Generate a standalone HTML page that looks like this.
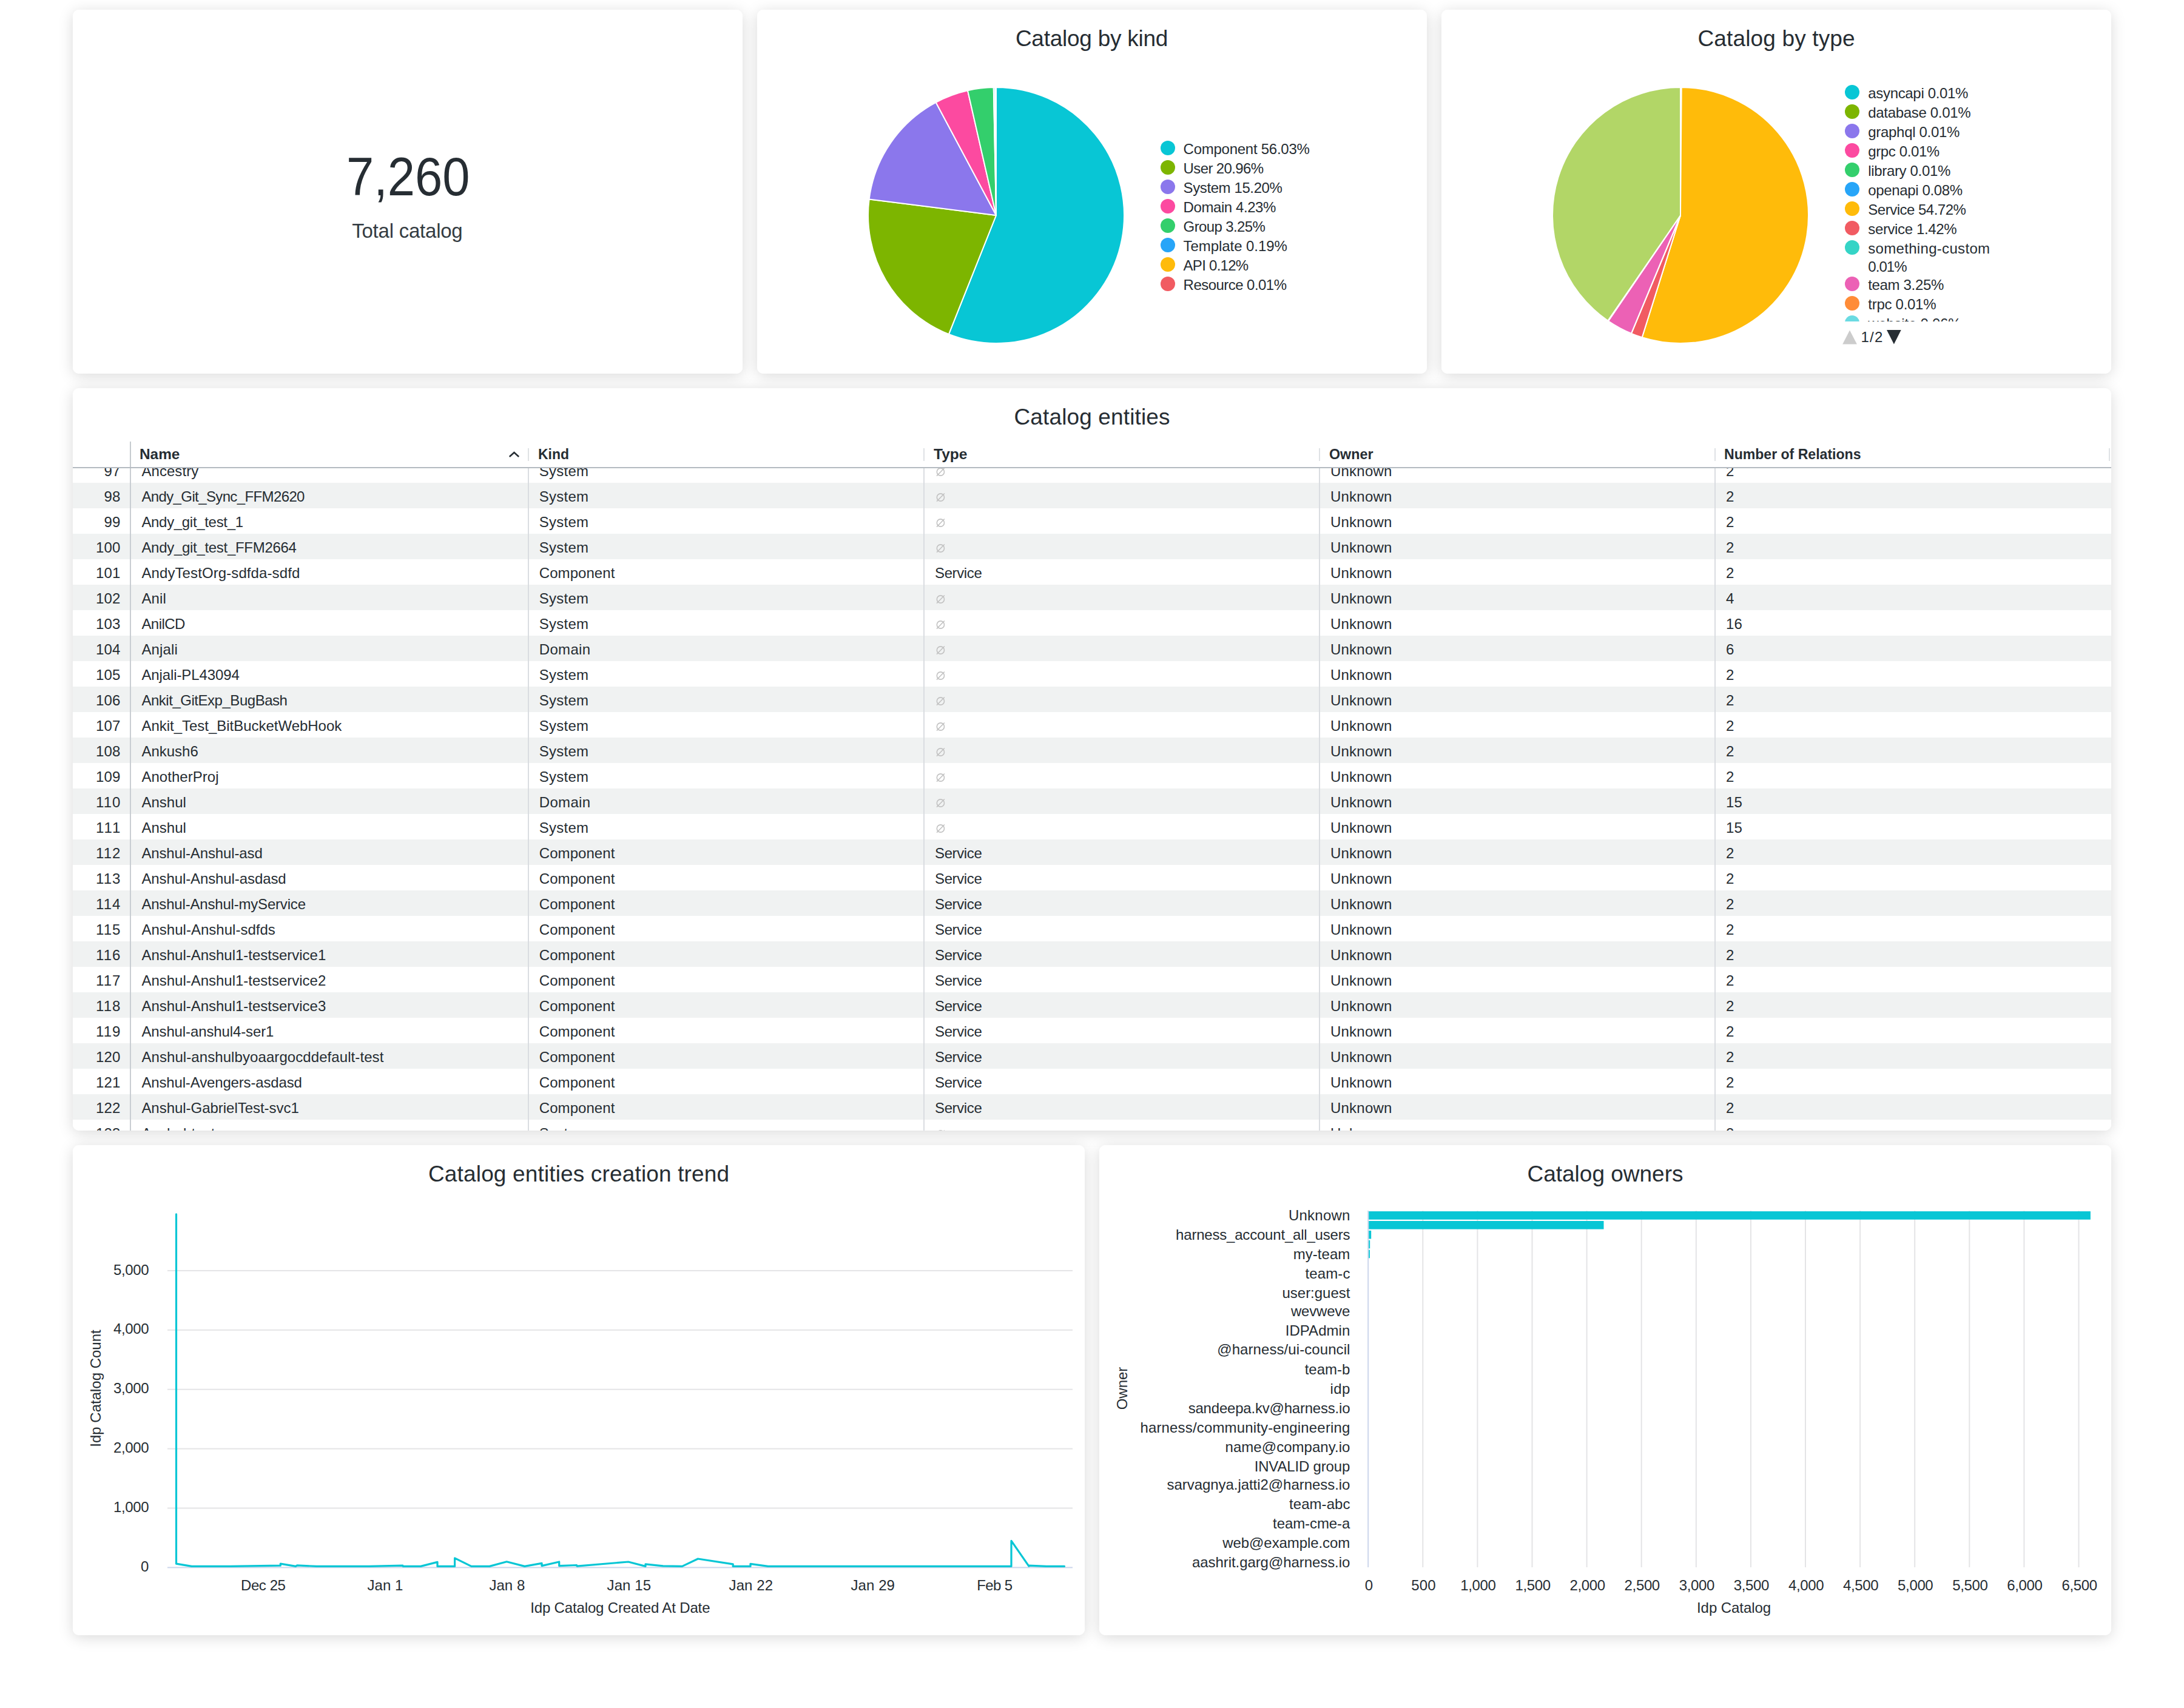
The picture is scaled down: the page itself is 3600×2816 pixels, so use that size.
<!DOCTYPE html>
<html><head><meta charset="utf-8"><title>Catalog dashboard</title><style>
html,body{margin:0;padding:0;background:#fff}
body{width:3600px;height:2816px;position:relative;overflow:hidden;font-family:"Liberation Sans",sans-serif;color:#262d33}
.abs{position:absolute}
.sh{position:absolute;border-radius:10px;box-shadow:0 4px 24px rgba(0,0,0,0.15)}
.card{position:absolute;border-radius:10px;background:#fff}
.t{position:absolute;white-space:pre;line-height:1}
.rot{position:absolute;white-space:pre;line-height:1;font-size:24px;transform:translate(-50%,-50%) rotate(-90deg)}
svg{display:block}
</style></head><body>
<div class="sh" style="left:120px;top:16px;width:1104px;height:600px"></div>
<div class="sh" style="left:1248px;top:16px;width:1104px;height:600px"></div>
<div class="sh" style="left:2376px;top:16px;width:1104px;height:600px"></div>
<div class="sh" style="left:120px;top:640px;width:3360px;height:1224px"></div>
<div class="sh" style="left:120px;top:1888px;width:1668px;height:808px"></div>
<div class="sh" style="left:1812px;top:1888px;width:1668px;height:808px"></div>
<div class="card" style="left:120px;top:16px;width:1104px;height:600px"></div>
<div class="card" style="left:1248px;top:16px;width:1104px;height:600px"></div>
<div class="card" style="left:2376px;top:16px;width:1104px;height:600px"></div>
<div class="card" style="left:120px;top:640px;width:3360px;height:1224px"></div>
<div class="card" style="left:120px;top:1888px;width:1668px;height:808px"></div>
<div class="card" style="left:1812px;top:1888px;width:1668px;height:808px"></div>
<div class="t" style="left:571.0px;top:246.5px;font-size:89px;transform:scaleX(0.9137);transform-origin:0 0;">7,260</div>
<div class="t" style="left:580.2px;top:364.1px;font-size:33px;color:#343c42;letter-spacing:-0.23px;">Total catalog</div>
<div class="t" style="left:1673.9px;top:45.2px;font-size:37px;letter-spacing:-0.25px;">Catalog by kind</div>
<div class="t" style="left:2798.5px;top:45.2px;font-size:37px;letter-spacing:0.14px;">Catalog by type</div>
<div class="t" style="left:1671.5px;top:669.2px;font-size:37px;letter-spacing:0.13px;">Catalog entities</div>
<div class="t" style="left:706.0px;top:1916.7px;font-size:37px;letter-spacing:0.15px;">Catalog entities creation trend</div>
<div class="t" style="left:2517.5px;top:1916.7px;font-size:37px;letter-spacing:-0.01px;">Catalog owners</div>
<svg class="abs" style="left:1427.3px;top:139.60000000000002px" width="430" height="430" viewBox="1427.3 139.60000000000002 430 430"><path d="M1642.30 354.60L1642.30 143.60A211 211 0 1 1 1564.19 550.61Z" fill="#08C6D5" stroke="#fff" stroke-width="2" stroke-linejoin="round"/><path d="M1642.30 354.60L1564.19 550.61A211 211 0 0 1 1432.96 328.18Z" fill="#7DB500" stroke="#fff" stroke-width="2" stroke-linejoin="round"/><path d="M1642.30 354.60L1432.96 328.18A211 211 0 0 1 1542.97 168.44Z" fill="#8B77EC" stroke="#fff" stroke-width="2" stroke-linejoin="round"/><path d="M1642.30 354.60L1542.97 168.44A211 211 0 0 1 1595.36 148.89Z" fill="#FC4AA0" stroke="#fff" stroke-width="2" stroke-linejoin="round"/><path d="M1642.30 354.60L1595.36 148.89A211 211 0 0 1 1638.06 143.64Z" fill="#33CF6C" stroke="#fff" stroke-width="2" stroke-linejoin="round"/><path d="M1642.30 354.60L1638.06 143.64A211 211 0 0 1 1640.58 143.61Z" fill="#27A5F8" stroke="#fff" stroke-width="2" stroke-linejoin="round"/><path d="M1642.30 354.60L1640.58 143.61A211 211 0 0 1 1642.17 143.60Z" fill="#FFBB0A" stroke="#fff" stroke-width="2" stroke-linejoin="round"/><path d="M1642.30 354.60L1642.17 143.60A211 211 0 0 1 1642.30 143.60Z" fill="#F15B62" stroke="#fff" stroke-width="2" stroke-linejoin="round"/></svg>
<svg class="abs" style="left:2555px;top:139.89999999999998px" width="430" height="430" viewBox="2555 139.89999999999998 430 430"><path d="M2770.00 354.90L2770.00 143.90A211 211 0 0 1 2770.13 143.90Z" fill="#08C6D5" stroke="#fff" stroke-width="2" stroke-linejoin="round"/><path d="M2770.00 354.90L2770.13 143.90A211 211 0 0 1 2770.27 143.90Z" fill="#7DB500" stroke="#fff" stroke-width="2" stroke-linejoin="round"/><path d="M2770.00 354.90L2770.27 143.90A211 211 0 0 1 2770.40 143.90Z" fill="#8B77EC" stroke="#fff" stroke-width="2" stroke-linejoin="round"/><path d="M2770.00 354.90L2770.40 143.90A211 211 0 0 1 2770.53 143.90Z" fill="#FC4AA0" stroke="#fff" stroke-width="2" stroke-linejoin="round"/><path d="M2770.00 354.90L2770.53 143.90A211 211 0 0 1 2770.66 143.90Z" fill="#33CF6C" stroke="#fff" stroke-width="2" stroke-linejoin="round"/><path d="M2770.00 354.90L2770.66 143.90A211 211 0 0 1 2771.72 143.91Z" fill="#27A5F8" stroke="#fff" stroke-width="2" stroke-linejoin="round"/><path d="M2770.00 354.90L2771.72 143.91A211 211 0 1 1 2706.69 556.18Z" fill="#FFBB0A" stroke="#fff" stroke-width="2" stroke-linejoin="round"/><path d="M2770.00 354.90L2706.69 556.18A211 211 0 0 1 2689.01 549.74Z" fill="#F15B62" stroke="#fff" stroke-width="2" stroke-linejoin="round"/><path d="M2770.00 354.90L2689.01 549.74A211 211 0 0 1 2688.89 549.69Z" fill="#35D4C6" stroke="#fff" stroke-width="2" stroke-linejoin="round"/><path d="M2770.00 354.90L2688.89 549.69A211 211 0 0 1 2651.07 529.19Z" fill="#EC61B5" stroke="#fff" stroke-width="2" stroke-linejoin="round"/><path d="M2770.00 354.90L2651.07 529.19A211 211 0 0 1 2650.96 529.12Z" fill="#FF8C38" stroke="#fff" stroke-width="2" stroke-linejoin="round"/><path d="M2770.00 354.90L2650.96 529.12A211 211 0 0 1 2650.31 528.67Z" fill="#6ADBE2" stroke="#fff" stroke-width="2" stroke-linejoin="round"/><path d="M2770.00 354.90L2650.31 528.67A211 211 0 0 1 2770.00 143.90Z" fill="#B2D667" stroke="#fff" stroke-width="2" stroke-linejoin="round"/></svg>
<div class="abs" style="left:1913px;top:231.9px;width:24px;height:24px;border-radius:50%;background:#08C6D5"></div>
<div class="t" style="left:1950.6px;top:234.2px;font-size:24px;letter-spacing:-0.26px;">Component 56.03%</div>
<div class="abs" style="left:1913px;top:263.9px;width:24px;height:24px;border-radius:50%;background:#7DB500"></div>
<div class="t" style="left:1950.6px;top:266.2px;font-size:24px;letter-spacing:-0.62px;">User 20.96%</div>
<div class="abs" style="left:1913px;top:295.9px;width:24px;height:24px;border-radius:50%;background:#8B77EC"></div>
<div class="t" style="left:1950.6px;top:298.2px;font-size:24px;letter-spacing:-0.40px;">System 15.20%</div>
<div class="abs" style="left:1913px;top:327.9px;width:24px;height:24px;border-radius:50%;background:#FC4AA0"></div>
<div class="t" style="left:1950.6px;top:330.2px;font-size:24px;letter-spacing:-0.42px;">Domain 4.23%</div>
<div class="abs" style="left:1913px;top:359.9px;width:24px;height:24px;border-radius:50%;background:#33CF6C"></div>
<div class="t" style="left:1950.6px;top:362.2px;font-size:24px;letter-spacing:-0.63px;">Group 3.25%</div>
<div class="abs" style="left:1913px;top:391.9px;width:24px;height:24px;border-radius:50%;background:#27A5F8"></div>
<div class="t" style="left:1950.6px;top:394.2px;font-size:24px;letter-spacing:-0.07px;">Template 0.19%</div>
<div class="abs" style="left:1913px;top:423.9px;width:24px;height:24px;border-radius:50%;background:#FFBB0A"></div>
<div class="t" style="left:1950.6px;top:426.2px;font-size:24px;letter-spacing:-0.73px;">API 0.12%</div>
<div class="abs" style="left:1913px;top:455.9px;width:24px;height:24px;border-radius:50%;background:#F15B62"></div>
<div class="t" style="left:1950.6px;top:458.2px;font-size:24px;letter-spacing:-0.54px;">Resource 0.01%</div>
<div class="abs" style="left:3030px;top:130px;width:440px;height:399.7px;overflow:hidden">
<div class="abs" style="left:11px;top:10.199999999999989px;width:24px;height:24px;border-radius:50%;background:#08C6D5"></div>
<div class="t" style="left:49.3px;top:12.3px;font-size:24px;letter-spacing:-0.33px;">asyncapi 0.01%</div>
<div class="abs" style="left:11px;top:42.19999999999999px;width:24px;height:24px;border-radius:50%;background:#7DB500"></div>
<div class="t" style="left:49.3px;top:44.3px;font-size:24px;letter-spacing:-0.32px;">database 0.01%</div>
<div class="abs" style="left:11px;top:74.19999999999999px;width:24px;height:24px;border-radius:50%;background:#8B77EC"></div>
<div class="t" style="left:49.3px;top:76.3px;font-size:24px;letter-spacing:-0.31px;">graphql 0.01%</div>
<div class="abs" style="left:11px;top:106.19999999999999px;width:24px;height:24px;border-radius:50%;background:#FC4AA0"></div>
<div class="t" style="left:49.3px;top:108.3px;font-size:24px;letter-spacing:-0.39px;">grpc 0.01%</div>
<div class="abs" style="left:11px;top:138.2px;width:24px;height:24px;border-radius:50%;background:#33CF6C"></div>
<div class="t" style="left:49.3px;top:140.3px;font-size:24px;letter-spacing:-0.34px;">library 0.01%</div>
<div class="abs" style="left:11px;top:170.2px;width:24px;height:24px;border-radius:50%;background:#27A5F8"></div>
<div class="t" style="left:49.3px;top:172.3px;font-size:24px;letter-spacing:-0.37px;">openapi 0.08%</div>
<div class="abs" style="left:11px;top:202.2px;width:24px;height:24px;border-radius:50%;background:#FFBB0A"></div>
<div class="t" style="left:49.3px;top:204.3px;font-size:24px;letter-spacing:-0.50px;">Service 54.72%</div>
<div class="abs" style="left:11px;top:234.2px;width:24px;height:24px;border-radius:50%;background:#F15B62"></div>
<div class="t" style="left:49.3px;top:236.3px;font-size:24px;letter-spacing:-0.38px;">service 1.42%</div>
<div class="abs" style="left:11px;top:266.2px;width:24px;height:24px;border-radius:50%;background:#35D4C6"></div>
<div class="t" style="left:49.3px;top:268.3px;font-size:24px;letter-spacing:0.31px;">something-custom</div>
<div class="abs" style="left:11px;top:325.9px;width:24px;height:24px;border-radius:50%;background:#EC61B5"></div>
<div class="t" style="left:49.3px;top:328.0px;font-size:24px;letter-spacing:-0.35px;">team 3.25%</div>
<div class="abs" style="left:11px;top:358.2px;width:24px;height:24px;border-radius:50%;background:#FF8C38"></div>
<div class="t" style="left:49.3px;top:360.3px;font-size:24px;letter-spacing:-0.28px;">trpc 0.01%</div>
<div class="abs" style="left:11px;top:390.20000000000005px;width:24px;height:24px;border-radius:50%;background:#6ADBE2"></div>
<div class="t" style="left:49.3px;top:392.3px;font-size:24px;letter-spacing:-0.24px;">website 0.06%</div>
<div class="t" style="left:49.3px;top:298.1px;font-size:24px;letter-spacing:-0.93px;">0.01%</div>
</div>
<svg class="abs" style="left:3030px;top:540px" width="120" height="32" viewBox="3030 540 120 32"><path d="M3037.2 567.6L3049 544.6L3060.9 567.6Z" fill="#cccccc"/><path d="M3110 544.1L3133.7 544.1L3121.9 567.6Z" fill="#262d33"/></svg>
<div class="t" style="left:3067.4px;top:543.7px;font-size:24px;letter-spacing:1.31px;">1/2</div>
<div class="abs" style="left:120px;top:772px;width:3360px;height:1092px;overflow:hidden;border-radius:0 0 10px 10px">
<div class="abs" style="left:0;top:24px;width:3360px;height:42px;background:#f0f2f2"></div>
<div class="abs" style="left:0;top:108px;width:3360px;height:42px;background:#f0f2f2"></div>
<div class="abs" style="left:0;top:192px;width:3360px;height:42px;background:#f0f2f2"></div>
<div class="abs" style="left:0;top:276px;width:3360px;height:42px;background:#f0f2f2"></div>
<div class="abs" style="left:0;top:360px;width:3360px;height:42px;background:#f0f2f2"></div>
<div class="abs" style="left:0;top:444px;width:3360px;height:42px;background:#f0f2f2"></div>
<div class="abs" style="left:0;top:528px;width:3360px;height:42px;background:#f0f2f2"></div>
<div class="abs" style="left:0;top:612px;width:3360px;height:42px;background:#f0f2f2"></div>
<div class="abs" style="left:0;top:696px;width:3360px;height:42px;background:#f0f2f2"></div>
<div class="abs" style="left:0;top:780px;width:3360px;height:42px;background:#f0f2f2"></div>
<div class="abs" style="left:0;top:864px;width:3360px;height:42px;background:#f0f2f2"></div>
<div class="abs" style="left:0;top:948px;width:3360px;height:42px;background:#f0f2f2"></div>
<div class="abs" style="left:0;top:1032px;width:3360px;height:42px;background:#f0f2f2"></div>
<div class="t" style="left:51.4px;top:-7.3px;font-size:24px;letter-spacing:0.25px;">97</div>
<div class="t" style="left:113.4px;top:-7.3px;font-size:24px;letter-spacing:0.07px;">Ancestry</div>
<div class="t" style="left:768.8px;top:-7.3px;font-size:24px;letter-spacing:0.24px;">System</div>
<svg class="abs" style="left:1421px;top:-4px" width="20" height="20" viewBox="0 0 20 20"><circle cx="9.4" cy="10" r="6.1" fill="none" stroke="#c2c2c2" stroke-width="1.6"/><path d="M3 16.6L15.9 3.5" stroke="#c2c2c2" stroke-width="1.5"/></svg>
<div class="t" style="left:2073.0px;top:-7.3px;font-size:24px;letter-spacing:0.22px;">Unknown</div>
<div class="t" style="left:2725.0px;top:-7.3px;font-size:24px;">2</div>
<div class="t" style="left:51.4px;top:34.7px;font-size:24px;letter-spacing:0.25px;">98</div>
<div class="t" style="left:113.4px;top:34.7px;font-size:24px;letter-spacing:-0.62px;">Andy_Git_Sync_FFM2620</div>
<div class="t" style="left:768.8px;top:34.7px;font-size:24px;letter-spacing:0.24px;">System</div>
<svg class="abs" style="left:1421px;top:38px" width="20" height="20" viewBox="0 0 20 20"><circle cx="9.4" cy="10" r="6.1" fill="none" stroke="#c2c2c2" stroke-width="1.6"/><path d="M3 16.6L15.9 3.5" stroke="#c2c2c2" stroke-width="1.5"/></svg>
<div class="t" style="left:2073.0px;top:34.7px;font-size:24px;letter-spacing:0.22px;">Unknown</div>
<div class="t" style="left:2725.0px;top:34.7px;font-size:24px;">2</div>
<div class="t" style="left:51.4px;top:76.7px;font-size:24px;letter-spacing:0.25px;">99</div>
<div class="t" style="left:113.4px;top:76.7px;font-size:24px;letter-spacing:-0.32px;">Andy_git_test_1</div>
<div class="t" style="left:768.8px;top:76.7px;font-size:24px;letter-spacing:0.24px;">System</div>
<svg class="abs" style="left:1421px;top:80px" width="20" height="20" viewBox="0 0 20 20"><circle cx="9.4" cy="10" r="6.1" fill="none" stroke="#c2c2c2" stroke-width="1.6"/><path d="M3 16.6L15.9 3.5" stroke="#c2c2c2" stroke-width="1.5"/></svg>
<div class="t" style="left:2073.0px;top:76.7px;font-size:24px;letter-spacing:0.22px;">Unknown</div>
<div class="t" style="left:2725.0px;top:76.7px;font-size:24px;">2</div>
<div class="t" style="left:38.0px;top:118.7px;font-size:24px;letter-spacing:0.19px;">100</div>
<div class="t" style="left:113.4px;top:118.7px;font-size:24px;letter-spacing:-0.30px;">Andy_git_test_FFM2664</div>
<div class="t" style="left:768.8px;top:118.7px;font-size:24px;letter-spacing:0.24px;">System</div>
<svg class="abs" style="left:1421px;top:122px" width="20" height="20" viewBox="0 0 20 20"><circle cx="9.4" cy="10" r="6.1" fill="none" stroke="#c2c2c2" stroke-width="1.6"/><path d="M3 16.6L15.9 3.5" stroke="#c2c2c2" stroke-width="1.5"/></svg>
<div class="t" style="left:2073.0px;top:118.7px;font-size:24px;letter-spacing:0.22px;">Unknown</div>
<div class="t" style="left:2725.0px;top:118.7px;font-size:24px;">2</div>
<div class="t" style="left:38.0px;top:160.7px;font-size:24px;letter-spacing:0.19px;">101</div>
<div class="t" style="left:113.4px;top:160.7px;font-size:24px;letter-spacing:0.10px;">AndyTestOrg-sdfda-sdfd</div>
<div class="t" style="left:768.8px;top:160.7px;font-size:24px;letter-spacing:0.06px;">Component</div>
<div class="t" style="left:1421.0px;top:160.7px;font-size:24px;letter-spacing:-0.37px;">Service</div>
<div class="t" style="left:2073.0px;top:160.7px;font-size:24px;letter-spacing:0.22px;">Unknown</div>
<div class="t" style="left:2725.0px;top:160.7px;font-size:24px;">2</div>
<div class="t" style="left:38.0px;top:202.7px;font-size:24px;letter-spacing:0.19px;">102</div>
<div class="t" style="left:113.4px;top:202.7px;font-size:24px;letter-spacing:0.17px;">Anil</div>
<div class="t" style="left:768.8px;top:202.7px;font-size:24px;letter-spacing:0.24px;">System</div>
<svg class="abs" style="left:1421px;top:206px" width="20" height="20" viewBox="0 0 20 20"><circle cx="9.4" cy="10" r="6.1" fill="none" stroke="#c2c2c2" stroke-width="1.6"/><path d="M3 16.6L15.9 3.5" stroke="#c2c2c2" stroke-width="1.5"/></svg>
<div class="t" style="left:2073.0px;top:202.7px;font-size:24px;letter-spacing:0.22px;">Unknown</div>
<div class="t" style="left:2725.0px;top:202.7px;font-size:24px;">4</div>
<div class="t" style="left:38.0px;top:244.7px;font-size:24px;letter-spacing:0.19px;">103</div>
<div class="t" style="left:113.4px;top:244.7px;font-size:24px;letter-spacing:-0.56px;">AnilCD</div>
<div class="t" style="left:768.8px;top:244.7px;font-size:24px;letter-spacing:0.24px;">System</div>
<svg class="abs" style="left:1421px;top:248px" width="20" height="20" viewBox="0 0 20 20"><circle cx="9.4" cy="10" r="6.1" fill="none" stroke="#c2c2c2" stroke-width="1.6"/><path d="M3 16.6L15.9 3.5" stroke="#c2c2c2" stroke-width="1.5"/></svg>
<div class="t" style="left:2073.0px;top:244.7px;font-size:24px;letter-spacing:0.22px;">Unknown</div>
<div class="t" style="left:2725.0px;top:244.7px;font-size:24px;letter-spacing:0.25px;">16</div>
<div class="t" style="left:38.0px;top:286.7px;font-size:24px;letter-spacing:0.19px;">104</div>
<div class="t" style="left:113.4px;top:286.7px;font-size:24px;letter-spacing:0.13px;">Anjali</div>
<div class="t" style="left:768.8px;top:286.7px;font-size:24px;letter-spacing:0.32px;">Domain</div>
<svg class="abs" style="left:1421px;top:290px" width="20" height="20" viewBox="0 0 20 20"><circle cx="9.4" cy="10" r="6.1" fill="none" stroke="#c2c2c2" stroke-width="1.6"/><path d="M3 16.6L15.9 3.5" stroke="#c2c2c2" stroke-width="1.5"/></svg>
<div class="t" style="left:2073.0px;top:286.7px;font-size:24px;letter-spacing:0.22px;">Unknown</div>
<div class="t" style="left:2725.0px;top:286.7px;font-size:24px;">6</div>
<div class="t" style="left:38.0px;top:328.7px;font-size:24px;letter-spacing:0.19px;">105</div>
<div class="t" style="left:113.4px;top:328.7px;font-size:24px;letter-spacing:-0.11px;">Anjali-PL43094</div>
<div class="t" style="left:768.8px;top:328.7px;font-size:24px;letter-spacing:0.24px;">System</div>
<svg class="abs" style="left:1421px;top:332px" width="20" height="20" viewBox="0 0 20 20"><circle cx="9.4" cy="10" r="6.1" fill="none" stroke="#c2c2c2" stroke-width="1.6"/><path d="M3 16.6L15.9 3.5" stroke="#c2c2c2" stroke-width="1.5"/></svg>
<div class="t" style="left:2073.0px;top:328.7px;font-size:24px;letter-spacing:0.22px;">Unknown</div>
<div class="t" style="left:2725.0px;top:328.7px;font-size:24px;">2</div>
<div class="t" style="left:38.0px;top:370.7px;font-size:24px;letter-spacing:0.19px;">106</div>
<div class="t" style="left:113.4px;top:370.7px;font-size:24px;letter-spacing:-0.47px;">Ankit_GitExp_BugBash</div>
<div class="t" style="left:768.8px;top:370.7px;font-size:24px;letter-spacing:0.24px;">System</div>
<svg class="abs" style="left:1421px;top:374px" width="20" height="20" viewBox="0 0 20 20"><circle cx="9.4" cy="10" r="6.1" fill="none" stroke="#c2c2c2" stroke-width="1.6"/><path d="M3 16.6L15.9 3.5" stroke="#c2c2c2" stroke-width="1.5"/></svg>
<div class="t" style="left:2073.0px;top:370.7px;font-size:24px;letter-spacing:0.22px;">Unknown</div>
<div class="t" style="left:2725.0px;top:370.7px;font-size:24px;">2</div>
<div class="t" style="left:38.0px;top:412.7px;font-size:24px;letter-spacing:0.19px;">107</div>
<div class="t" style="left:113.4px;top:412.7px;font-size:24px;letter-spacing:-0.02px;">Ankit_Test_BitBucketWebHook</div>
<div class="t" style="left:768.8px;top:412.7px;font-size:24px;letter-spacing:0.24px;">System</div>
<svg class="abs" style="left:1421px;top:416px" width="20" height="20" viewBox="0 0 20 20"><circle cx="9.4" cy="10" r="6.1" fill="none" stroke="#c2c2c2" stroke-width="1.6"/><path d="M3 16.6L15.9 3.5" stroke="#c2c2c2" stroke-width="1.5"/></svg>
<div class="t" style="left:2073.0px;top:412.7px;font-size:24px;letter-spacing:0.22px;">Unknown</div>
<div class="t" style="left:2725.0px;top:412.7px;font-size:24px;">2</div>
<div class="t" style="left:38.0px;top:454.7px;font-size:24px;letter-spacing:0.19px;">108</div>
<div class="t" style="left:113.4px;top:454.7px;font-size:24px;letter-spacing:-0.01px;">Ankush6</div>
<div class="t" style="left:768.8px;top:454.7px;font-size:24px;letter-spacing:0.24px;">System</div>
<svg class="abs" style="left:1421px;top:458px" width="20" height="20" viewBox="0 0 20 20"><circle cx="9.4" cy="10" r="6.1" fill="none" stroke="#c2c2c2" stroke-width="1.6"/><path d="M3 16.6L15.9 3.5" stroke="#c2c2c2" stroke-width="1.5"/></svg>
<div class="t" style="left:2073.0px;top:454.7px;font-size:24px;letter-spacing:0.22px;">Unknown</div>
<div class="t" style="left:2725.0px;top:454.7px;font-size:24px;">2</div>
<div class="t" style="left:38.0px;top:496.7px;font-size:24px;letter-spacing:0.19px;">109</div>
<div class="t" style="left:113.4px;top:496.7px;font-size:24px;letter-spacing:0.04px;">AnotherProj</div>
<div class="t" style="left:768.8px;top:496.7px;font-size:24px;letter-spacing:0.24px;">System</div>
<svg class="abs" style="left:1421px;top:500px" width="20" height="20" viewBox="0 0 20 20"><circle cx="9.4" cy="10" r="6.1" fill="none" stroke="#c2c2c2" stroke-width="1.6"/><path d="M3 16.6L15.9 3.5" stroke="#c2c2c2" stroke-width="1.5"/></svg>
<div class="t" style="left:2073.0px;top:496.7px;font-size:24px;letter-spacing:0.22px;">Unknown</div>
<div class="t" style="left:2725.0px;top:496.7px;font-size:24px;">2</div>
<div class="t" style="left:38.0px;top:538.7px;font-size:24px;letter-spacing:1.08px;">110</div>
<div class="t" style="left:113.4px;top:538.7px;font-size:24px;letter-spacing:0.03px;">Anshul</div>
<div class="t" style="left:768.8px;top:538.7px;font-size:24px;letter-spacing:0.32px;">Domain</div>
<svg class="abs" style="left:1421px;top:542px" width="20" height="20" viewBox="0 0 20 20"><circle cx="9.4" cy="10" r="6.1" fill="none" stroke="#c2c2c2" stroke-width="1.6"/><path d="M3 16.6L15.9 3.5" stroke="#c2c2c2" stroke-width="1.5"/></svg>
<div class="t" style="left:2073.0px;top:538.7px;font-size:24px;letter-spacing:0.22px;">Unknown</div>
<div class="t" style="left:2725.0px;top:538.7px;font-size:24px;letter-spacing:0.25px;">15</div>
<div class="t" style="left:38.0px;top:580.7px;font-size:24px;letter-spacing:1.97px;">111</div>
<div class="t" style="left:113.4px;top:580.7px;font-size:24px;letter-spacing:0.03px;">Anshul</div>
<div class="t" style="left:768.8px;top:580.7px;font-size:24px;letter-spacing:0.24px;">System</div>
<svg class="abs" style="left:1421px;top:584px" width="20" height="20" viewBox="0 0 20 20"><circle cx="9.4" cy="10" r="6.1" fill="none" stroke="#c2c2c2" stroke-width="1.6"/><path d="M3 16.6L15.9 3.5" stroke="#c2c2c2" stroke-width="1.5"/></svg>
<div class="t" style="left:2073.0px;top:580.7px;font-size:24px;letter-spacing:0.22px;">Unknown</div>
<div class="t" style="left:2725.0px;top:580.7px;font-size:24px;letter-spacing:0.25px;">15</div>
<div class="t" style="left:38.0px;top:622.7px;font-size:24px;letter-spacing:1.08px;">112</div>
<div class="t" style="left:113.4px;top:622.7px;font-size:24px;letter-spacing:-0.13px;">Anshul-Anshul-asd</div>
<div class="t" style="left:768.8px;top:622.7px;font-size:24px;letter-spacing:0.06px;">Component</div>
<div class="t" style="left:1421.0px;top:622.7px;font-size:24px;letter-spacing:-0.37px;">Service</div>
<div class="t" style="left:2073.0px;top:622.7px;font-size:24px;letter-spacing:0.22px;">Unknown</div>
<div class="t" style="left:2725.0px;top:622.7px;font-size:24px;">2</div>
<div class="t" style="left:38.0px;top:664.7px;font-size:24px;letter-spacing:1.08px;">113</div>
<div class="t" style="left:113.4px;top:664.7px;font-size:24px;letter-spacing:-0.10px;">Anshul-Anshul-asdasd</div>
<div class="t" style="left:768.8px;top:664.7px;font-size:24px;letter-spacing:0.06px;">Component</div>
<div class="t" style="left:1421.0px;top:664.7px;font-size:24px;letter-spacing:-0.37px;">Service</div>
<div class="t" style="left:2073.0px;top:664.7px;font-size:24px;letter-spacing:0.22px;">Unknown</div>
<div class="t" style="left:2725.0px;top:664.7px;font-size:24px;">2</div>
<div class="t" style="left:38.0px;top:706.7px;font-size:24px;letter-spacing:1.08px;">114</div>
<div class="t" style="left:113.4px;top:706.7px;font-size:24px;letter-spacing:-0.19px;">Anshul-Anshul-myService</div>
<div class="t" style="left:768.8px;top:706.7px;font-size:24px;letter-spacing:0.06px;">Component</div>
<div class="t" style="left:1421.0px;top:706.7px;font-size:24px;letter-spacing:-0.37px;">Service</div>
<div class="t" style="left:2073.0px;top:706.7px;font-size:24px;letter-spacing:0.22px;">Unknown</div>
<div class="t" style="left:2725.0px;top:706.7px;font-size:24px;">2</div>
<div class="t" style="left:38.0px;top:748.7px;font-size:24px;letter-spacing:1.08px;">115</div>
<div class="t" style="left:113.4px;top:748.7px;font-size:24px;letter-spacing:0.02px;">Anshul-Anshul-sdfds</div>
<div class="t" style="left:768.8px;top:748.7px;font-size:24px;letter-spacing:0.06px;">Component</div>
<div class="t" style="left:1421.0px;top:748.7px;font-size:24px;letter-spacing:-0.37px;">Service</div>
<div class="t" style="left:2073.0px;top:748.7px;font-size:24px;letter-spacing:0.22px;">Unknown</div>
<div class="t" style="left:2725.0px;top:748.7px;font-size:24px;">2</div>
<div class="t" style="left:38.0px;top:790.7px;font-size:24px;letter-spacing:1.08px;">116</div>
<div class="t" style="left:113.4px;top:790.7px;font-size:24px;letter-spacing:-0.01px;">Anshul-Anshul1-testservice1</div>
<div class="t" style="left:768.8px;top:790.7px;font-size:24px;letter-spacing:0.06px;">Component</div>
<div class="t" style="left:1421.0px;top:790.7px;font-size:24px;letter-spacing:-0.37px;">Service</div>
<div class="t" style="left:2073.0px;top:790.7px;font-size:24px;letter-spacing:0.22px;">Unknown</div>
<div class="t" style="left:2725.0px;top:790.7px;font-size:24px;">2</div>
<div class="t" style="left:38.0px;top:832.7px;font-size:24px;letter-spacing:1.08px;">117</div>
<div class="t" style="left:113.4px;top:832.7px;font-size:24px;letter-spacing:-0.01px;">Anshul-Anshul1-testservice2</div>
<div class="t" style="left:768.8px;top:832.7px;font-size:24px;letter-spacing:0.06px;">Component</div>
<div class="t" style="left:1421.0px;top:832.7px;font-size:24px;letter-spacing:-0.37px;">Service</div>
<div class="t" style="left:2073.0px;top:832.7px;font-size:24px;letter-spacing:0.22px;">Unknown</div>
<div class="t" style="left:2725.0px;top:832.7px;font-size:24px;">2</div>
<div class="t" style="left:38.0px;top:874.7px;font-size:24px;letter-spacing:1.08px;">118</div>
<div class="t" style="left:113.4px;top:874.7px;font-size:24px;letter-spacing:-0.01px;">Anshul-Anshul1-testservice3</div>
<div class="t" style="left:768.8px;top:874.7px;font-size:24px;letter-spacing:0.06px;">Component</div>
<div class="t" style="left:1421.0px;top:874.7px;font-size:24px;letter-spacing:-0.37px;">Service</div>
<div class="t" style="left:2073.0px;top:874.7px;font-size:24px;letter-spacing:0.22px;">Unknown</div>
<div class="t" style="left:2725.0px;top:874.7px;font-size:24px;">2</div>
<div class="t" style="left:38.0px;top:916.7px;font-size:24px;letter-spacing:1.08px;">119</div>
<div class="t" style="left:113.4px;top:916.7px;font-size:24px;letter-spacing:-0.12px;">Anshul-anshul4-ser1</div>
<div class="t" style="left:768.8px;top:916.7px;font-size:24px;letter-spacing:0.06px;">Component</div>
<div class="t" style="left:1421.0px;top:916.7px;font-size:24px;letter-spacing:-0.37px;">Service</div>
<div class="t" style="left:2073.0px;top:916.7px;font-size:24px;letter-spacing:0.22px;">Unknown</div>
<div class="t" style="left:2725.0px;top:916.7px;font-size:24px;">2</div>
<div class="t" style="left:38.0px;top:958.7px;font-size:24px;letter-spacing:0.19px;">120</div>
<div class="t" style="left:113.4px;top:958.7px;font-size:24px;letter-spacing:0.08px;">Anshul-anshulbyoaargocddefault-test</div>
<div class="t" style="left:768.8px;top:958.7px;font-size:24px;letter-spacing:0.06px;">Component</div>
<div class="t" style="left:1421.0px;top:958.7px;font-size:24px;letter-spacing:-0.37px;">Service</div>
<div class="t" style="left:2073.0px;top:958.7px;font-size:24px;letter-spacing:0.22px;">Unknown</div>
<div class="t" style="left:2725.0px;top:958.7px;font-size:24px;">2</div>
<div class="t" style="left:38.0px;top:1000.7px;font-size:24px;letter-spacing:0.19px;">121</div>
<div class="t" style="left:113.4px;top:1000.7px;font-size:24px;letter-spacing:-0.15px;">Anshul-Avengers-asdasd</div>
<div class="t" style="left:768.8px;top:1000.7px;font-size:24px;letter-spacing:0.06px;">Component</div>
<div class="t" style="left:1421.0px;top:1000.7px;font-size:24px;letter-spacing:-0.37px;">Service</div>
<div class="t" style="left:2073.0px;top:1000.7px;font-size:24px;letter-spacing:0.22px;">Unknown</div>
<div class="t" style="left:2725.0px;top:1000.7px;font-size:24px;">2</div>
<div class="t" style="left:38.0px;top:1042.7px;font-size:24px;letter-spacing:0.19px;">122</div>
<div class="t" style="left:113.4px;top:1042.7px;font-size:24px;letter-spacing:-0.03px;">Anshul-GabrielTest-svc1</div>
<div class="t" style="left:768.8px;top:1042.7px;font-size:24px;letter-spacing:0.06px;">Component</div>
<div class="t" style="left:1421.0px;top:1042.7px;font-size:24px;letter-spacing:-0.37px;">Service</div>
<div class="t" style="left:2073.0px;top:1042.7px;font-size:24px;letter-spacing:0.22px;">Unknown</div>
<div class="t" style="left:2725.0px;top:1042.7px;font-size:24px;">2</div>
<div class="t" style="left:38.0px;top:1084.7px;font-size:24px;letter-spacing:0.19px;">123</div>
<div class="t" style="left:113.4px;top:1084.7px;font-size:24px;letter-spacing:0.09px;">Anshul-test</div>
<div class="t" style="left:768.8px;top:1084.7px;font-size:24px;letter-spacing:0.24px;">System</div>
<svg class="abs" style="left:1421px;top:1088px" width="20" height="20" viewBox="0 0 20 20"><circle cx="9.4" cy="10" r="6.1" fill="none" stroke="#c2c2c2" stroke-width="1.6"/><path d="M3 16.6L15.9 3.5" stroke="#c2c2c2" stroke-width="1.5"/></svg>
<div class="t" style="left:2073.0px;top:1084.7px;font-size:24px;letter-spacing:0.22px;">Unknown</div>
<div class="t" style="left:2725.0px;top:1084.7px;font-size:24px;">2</div>
<div class="abs" style="left:94px;top:0;width:2px;height:1100px;background:#c9ced3"></div>
<div class="abs" style="left:750px;top:0;width:2px;height:1100px;background:#dadde1"></div>
<div class="abs" style="left:1402px;top:0;width:2px;height:1100px;background:#dadde1"></div>
<div class="abs" style="left:2054px;top:0;width:2px;height:1100px;background:#dadde1"></div>
<div class="abs" style="left:2706px;top:0;width:2px;height:1100px;background:#dadde1"></div>
</div>
<div class="abs" style="left:120px;top:770px;width:3360px;height:2px;background:#b4bac0"></div>
<div class="abs" style="left:214px;top:728px;width:2px;height:42px;background:#c6cbd0"></div>
<div class="abs" style="left:870px;top:739px;width:2px;height:21px;background:#dfe2e5"></div>
<div class="abs" style="left:1522px;top:739px;width:2px;height:21px;background:#dfe2e5"></div>
<div class="abs" style="left:2174px;top:739px;width:2px;height:21px;background:#dfe2e5"></div>
<div class="abs" style="left:2826px;top:739px;width:2px;height:21px;background:#dfe2e5"></div>
<div class="abs" style="left:3476px;top:739px;width:2px;height:21px;background:#dfe2e5"></div>
<div class="t" style="left:230.4px;top:736.7px;font-size:24px;font-weight:700;transform:scaleX(1.0157);transform-origin:0 0;">Name</div>
<div class="t" style="left:886.6px;top:736.7px;font-size:24px;font-weight:700;transform:scaleX(0.9563);transform-origin:0 0;">Kind</div>
<div class="t" style="left:1539.2px;top:736.7px;font-size:24px;font-weight:700;transform:scaleX(1.0233);transform-origin:0 0;">Type</div>
<div class="t" style="left:2190.6px;top:736.7px;font-size:24px;font-weight:700;transform:scaleX(0.9707);transform-origin:0 0;">Owner</div>
<div class="t" style="left:2842.3px;top:736.7px;font-size:24px;font-weight:700;transform:scaleX(0.9608);transform-origin:0 0;">Number of Relations</div>
<svg class="abs" style="left:834px;top:738px" width="28" height="22" viewBox="834 738 28 22"><path d="M839.8 753L847.5 746L855.2 753" fill="none" stroke="#262d33" stroke-width="2.6"/></svg>
<svg class="abs" style="left:120px;top:1888px" width="1668" height="808" viewBox="120 1888 1668 808"><rect x="276" y="2485.5" width="1492" height="2" fill="#e4e4e6"/><rect x="276" y="2387.6" width="1492" height="2" fill="#e4e4e6"/><rect x="276" y="2289.7" width="1492" height="2" fill="#e4e4e6"/><rect x="276" y="2191.8" width="1492" height="2" fill="#e4e4e6"/><rect x="276" y="2093.9" width="1492" height="2" fill="#e4e4e6"/><rect x="276" y="2583.4" width="1492" height="2" fill="#ccd6eb"/><path d="M290.5 2001.9L290.5 2578.2L316.0 2582.4L380.0 2582.4L462.3 2581.2L462.3 2578.2L487.5 2582.4L489.8 2580.9L521.8 2582.4L608.8 2582.4L663.8 2581.2L664.3 2582.4L693.5 2582.4L721.0 2575.4L721.0 2582.4L749.6 2582.4L749.6 2568.9L776.9 2582.4L807.0 2582.4L835.2 2574.8L864.8 2582.4L893.0 2577.4L893.0 2581.6L921.7 2575.0L921.7 2581.6L950.5 2580.5L951.0 2582.1L1035.7 2575.0L1064.0 2582.4L1064.0 2578.8L1092.9 2581.9L1124.5 2582.4L1150.5 2570.0L1208.2 2578.8L1208.2 2582.4L1237.0 2582.4L1237.0 2578.3L1266.0 2582.4L1667.0 2582.4L1667.0 2540.4L1695.9 2582.1L1696.0 2581.1L1724.7 2582.4L1754.5 2582.4" fill="none" stroke="#08C6D5" stroke-width="3.2" stroke-linejoin="round" stroke-linecap="round"/></svg>
<div class="t" style="left:232.1px;top:2571.0px;font-size:24px;">0</div>
<div class="t" style="left:186.9px;top:2473.1px;font-size:24px;letter-spacing:-0.36px;">1,000</div>
<div class="t" style="left:186.9px;top:2375.2px;font-size:24px;letter-spacing:-0.36px;">2,000</div>
<div class="t" style="left:186.9px;top:2277.3px;font-size:24px;letter-spacing:-0.36px;">3,000</div>
<div class="t" style="left:186.9px;top:2179.4px;font-size:24px;letter-spacing:-0.36px;">4,000</div>
<div class="t" style="left:186.9px;top:2081.5px;font-size:24px;letter-spacing:-0.36px;">5,000</div>
<div class="t" style="left:397.0px;top:2602.2px;font-size:24px;letter-spacing:-0.43px;">Dec 25</div>
<div class="t" style="left:605.5px;top:2602.2px;font-size:24px;letter-spacing:0.06px;">Jan 1</div>
<div class="t" style="left:806.4px;top:2602.2px;font-size:24px;letter-spacing:0.06px;">Jan 8</div>
<div class="t" style="left:1000.6px;top:2602.2px;font-size:24px;letter-spacing:0.07px;">Jan 15</div>
<div class="t" style="left:1201.6px;top:2602.2px;font-size:24px;letter-spacing:0.07px;">Jan 22</div>
<div class="t" style="left:1402.5px;top:2602.2px;font-size:24px;letter-spacing:0.07px;">Jan 29</div>
<div class="t" style="left:1610.3px;top:2602.2px;font-size:24px;letter-spacing:-0.63px;">Feb 5</div>
<div class="t" style="left:874.2px;top:2639.4px;font-size:24px;letter-spacing:-0.15px;">Idp Catalog Created At Date</div>
<div class="rot" style="left:158px;top:2289px">Idp Catalog Count</div>
<svg class="abs" style="left:1812px;top:1888px" width="1668" height="808" viewBox="1812 1888 1668 808"><rect x="2344.3" y="1996" width="2" height="588" fill="#e4e4e6"/><rect x="2434.4" y="1996" width="2" height="588" fill="#e4e4e6"/><rect x="2524.5" y="1996" width="2" height="588" fill="#e4e4e6"/><rect x="2614.6" y="1996" width="2" height="588" fill="#e4e4e6"/><rect x="2704.7" y="1996" width="2" height="588" fill="#e4e4e6"/><rect x="2794.8" y="1996" width="2" height="588" fill="#e4e4e6"/><rect x="2884.9" y="1996" width="2" height="588" fill="#e4e4e6"/><rect x="2975.0" y="1996" width="2" height="588" fill="#e4e4e6"/><rect x="3065.1" y="1996" width="2" height="588" fill="#e4e4e6"/><rect x="3155.2" y="1996" width="2" height="588" fill="#e4e4e6"/><rect x="3245.3" y="1996" width="2" height="588" fill="#e4e4e6"/><rect x="3335.4" y="1996" width="2" height="588" fill="#e4e4e6"/><rect x="3425.5" y="1996" width="2" height="588" fill="#e4e4e6"/><rect x="2254.2" y="1996" width="2" height="588" fill="#ccd6eb"/><rect x="2256.2" y="1997.1" width="1189.7" height="13.6" fill="#08C6D5"/><rect x="2256.2" y="2013.0" width="387.3" height="13.6" fill="#08C6D5"/><rect x="2256.2" y="2028.9" width="4.0" height="13.6" fill="#08C6D5"/><rect x="2256.2" y="2044.8" width="2.0" height="13.6" fill="#08C6D5"/><rect x="2256.2" y="2060.7" width="1.8" height="13.6" fill="#08C6D5"/></svg>
<div class="t" style="left:2124.0px;top:1992.1px;font-size:24px;letter-spacing:0.22px;">Unknown</div>
<div class="t" style="left:1938.1px;top:2023.9px;font-size:24px;letter-spacing:-0.20px;">harness_account_all_users</div>
<div class="t" style="left:2131.7px;top:2056.0px;font-size:24px;letter-spacing:0.05px;">my-team</div>
<div class="t" style="left:2151.6px;top:2087.7px;font-size:24px;letter-spacing:0.09px;">team-c</div>
<div class="t" style="left:2113.5px;top:2119.9px;font-size:24px;letter-spacing:-0.02px;">user:guest</div>
<div class="t" style="left:2128.0px;top:2150.0px;font-size:24px;letter-spacing:-0.21px;">wevweve</div>
<div class="t" style="left:2118.7px;top:2181.7px;font-size:24px;letter-spacing:0.06px;">IDPAdmin</div>
<div class="t" style="left:2006.2px;top:2213.4px;font-size:24px;letter-spacing:0.08px;">@harness/ui-council</div>
<div class="t" style="left:2150.7px;top:2246.0px;font-size:24px;letter-spacing:0.01px;">team-b</div>
<div class="t" style="left:2192.6px;top:2277.7px;font-size:24px;letter-spacing:0.40px;">idp</div>
<div class="t" style="left:1958.7px;top:2310.3px;font-size:24px;letter-spacing:-0.21px;">sandeepa.kv@harness.io</div>
<div class="t" style="left:1879.4px;top:2342.0px;font-size:24px;letter-spacing:0.16px;">harness/community-engineering</div>
<div class="t" style="left:2019.6px;top:2374.2px;font-size:24px;letter-spacing:0.03px;">name@company.io</div>
<div class="t" style="left:2067.7px;top:2406.3px;font-size:24px;letter-spacing:-0.17px;">INVALID group</div>
<div class="t" style="left:1923.5px;top:2436.0px;font-size:24px;letter-spacing:-0.05px;">sarvagnya.jatti2@harness.io</div>
<div class="t" style="left:2125.1px;top:2468.2px;font-size:24px;letter-spacing:0.04px;">team-abc</div>
<div class="t" style="left:2098.1px;top:2500.2px;font-size:24px;letter-spacing:-0.09px;">team-cme-a</div>
<div class="t" style="left:2015.3px;top:2532.4px;font-size:24px;letter-spacing:-0.08px;">web@example.com</div>
<div class="t" style="left:1965.0px;top:2564.2px;font-size:24px;letter-spacing:-0.07px;">aashrit.garg@harness.io</div>
<div class="t" style="left:2249.7px;top:2602.2px;font-size:24px;">0</div>
<div class="t" style="left:2326.3px;top:2602.2px;font-size:24px;letter-spacing:0.19px;">500</div>
<div class="t" style="left:2407.3px;top:2602.2px;font-size:24px;letter-spacing:-0.36px;">1,000</div>
<div class="t" style="left:2497.4px;top:2602.2px;font-size:24px;letter-spacing:-0.36px;">1,500</div>
<div class="t" style="left:2587.5px;top:2602.2px;font-size:24px;letter-spacing:-0.36px;">2,000</div>
<div class="t" style="left:2677.6px;top:2602.2px;font-size:24px;letter-spacing:-0.36px;">2,500</div>
<div class="t" style="left:2767.7px;top:2602.2px;font-size:24px;letter-spacing:-0.36px;">3,000</div>
<div class="t" style="left:2857.8px;top:2602.2px;font-size:24px;letter-spacing:-0.36px;">3,500</div>
<div class="t" style="left:2947.9px;top:2602.2px;font-size:24px;letter-spacing:-0.36px;">4,000</div>
<div class="t" style="left:3038.0px;top:2602.2px;font-size:24px;letter-spacing:-0.36px;">4,500</div>
<div class="t" style="left:3128.1px;top:2602.2px;font-size:24px;letter-spacing:-0.36px;">5,000</div>
<div class="t" style="left:3218.2px;top:2602.2px;font-size:24px;letter-spacing:-0.36px;">5,500</div>
<div class="t" style="left:3308.3px;top:2602.2px;font-size:24px;letter-spacing:-0.36px;">6,000</div>
<div class="t" style="left:3398.4px;top:2602.2px;font-size:24px;letter-spacing:-0.36px;">6,500</div>
<div class="t" style="left:2797.0px;top:2639.4px;font-size:24px;letter-spacing:-0.07px;">Idp Catalog</div>
<div class="rot" style="left:1850px;top:2289px">Owner</div>
</body></html>
